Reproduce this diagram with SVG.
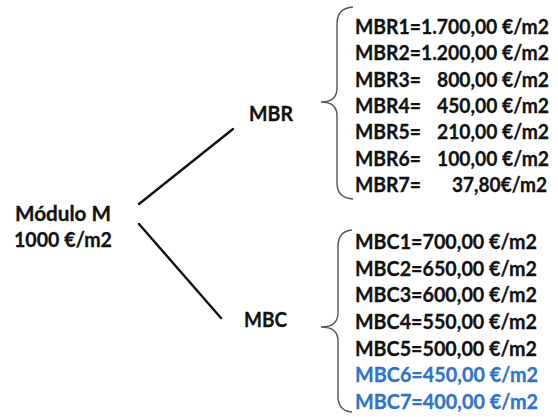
<svg xmlns="http://www.w3.org/2000/svg" width="558" height="417" viewBox="0 0 558 417">
<style>
text{font-family:Lato,"Open Sans","Liberation Sans",sans-serif;font-weight:bold;font-size:20.5px;fill:#111;stroke:#111;stroke-width:0.3}
text.blue{fill:#2E74C9;stroke:#2E74C9}
.ln{stroke:#111;stroke-width:2.4;fill:none;stroke-linecap:round}
.br{stroke:#555;stroke-width:1.4;fill:none}
</style>
<rect width="558" height="417" fill="#fff"/>
<g id="connectors">
<line class="ln" x1="139" y1="204" x2="233" y2="129"/>
<line class="ln" x1="139" y1="224" x2="221" y2="318"/>
</g>
<g id="root">
<text x="15" y="221" textLength="96" lengthAdjust="spacingAndGlyphs">Módulo M</text>
<text x="14" y="247" textLength="98" lengthAdjust="spacingAndGlyphs">1000 €/m2</text>
</g>
<g id="mbr">
<text x="249" y="121" textLength="44" lengthAdjust="spacingAndGlyphs">MBR</text>
</g>
<g id="mbc">
<text x="244" y="327" textLength="43" lengthAdjust="spacingAndGlyphs">MBC</text>
</g>
<g id="mbr-list">
<path class="br" d="M353,7 Q337,8 337,24 L337,88 Q337,102 321,102 Q337,102 337,116 L337,183 Q337,198 353,199"/>
<text x="355" y="34" textLength="66" lengthAdjust="spacingAndGlyphs">MBR1=</text>
<text x="549" y="34" text-anchor="end" textLength="128" lengthAdjust="spacingAndGlyphs">1.700,00 €/m2</text>
<text x="355" y="60.3" textLength="66" lengthAdjust="spacingAndGlyphs">MBR2=</text>
<text x="549" y="60.3" text-anchor="end" textLength="128" lengthAdjust="spacingAndGlyphs">1.200,00 €/m2</text>
<text x="355" y="86.7" textLength="66" lengthAdjust="spacingAndGlyphs">MBR3=</text>
<text x="549" y="86.7" text-anchor="end" textLength="112" lengthAdjust="spacingAndGlyphs">800,00 €/m2</text>
<text x="355" y="113" textLength="66" lengthAdjust="spacingAndGlyphs">MBR4=</text>
<text x="549" y="113" text-anchor="end" textLength="112" lengthAdjust="spacingAndGlyphs">450,00 €/m2</text>
<text x="355" y="139.3" textLength="66" lengthAdjust="spacingAndGlyphs">MBR5=</text>
<text x="549" y="139.3" text-anchor="end" textLength="112" lengthAdjust="spacingAndGlyphs">210,00 €/m2</text>
<text x="355" y="165.7" textLength="66" lengthAdjust="spacingAndGlyphs">MBR6=</text>
<text x="549" y="165.7" text-anchor="end" textLength="112" lengthAdjust="spacingAndGlyphs">100,00 €/m2</text>
<text x="355" y="192" textLength="66" lengthAdjust="spacingAndGlyphs">MBR7=</text>
<text x="547" y="192" text-anchor="end" textLength="95" lengthAdjust="spacingAndGlyphs">37,80€/m2</text>
</g>
<g id="mbc-list">
<path class="br" d="M352,230 Q338,231 338,247 L338,313 Q338,327 321,327 Q338,327 338,341 L338,396 Q338,411 352,412"/>
<text x="355" y="249" textLength="182" lengthAdjust="spacingAndGlyphs">MBC1=700,00 €/m2</text>
<text x="355" y="275.7" textLength="182" lengthAdjust="spacingAndGlyphs">MBC2=650,00 €/m2</text>
<text x="355" y="302.3" textLength="182" lengthAdjust="spacingAndGlyphs">MBC3=600,00 €/m2</text>
<text x="355" y="329" textLength="182" lengthAdjust="spacingAndGlyphs">MBC4=550,00 €/m2</text>
<text x="355" y="355.7" textLength="182" lengthAdjust="spacingAndGlyphs">MBC5=500,00 €/m2</text>
<text class="blue" x="355" y="382.3" textLength="183" lengthAdjust="spacingAndGlyphs">MBC6=450,00 €/m2</text>
<text class="blue" x="355" y="409" textLength="183" lengthAdjust="spacingAndGlyphs">MBC7=400,00 €/m2</text>
</g>
</svg>
